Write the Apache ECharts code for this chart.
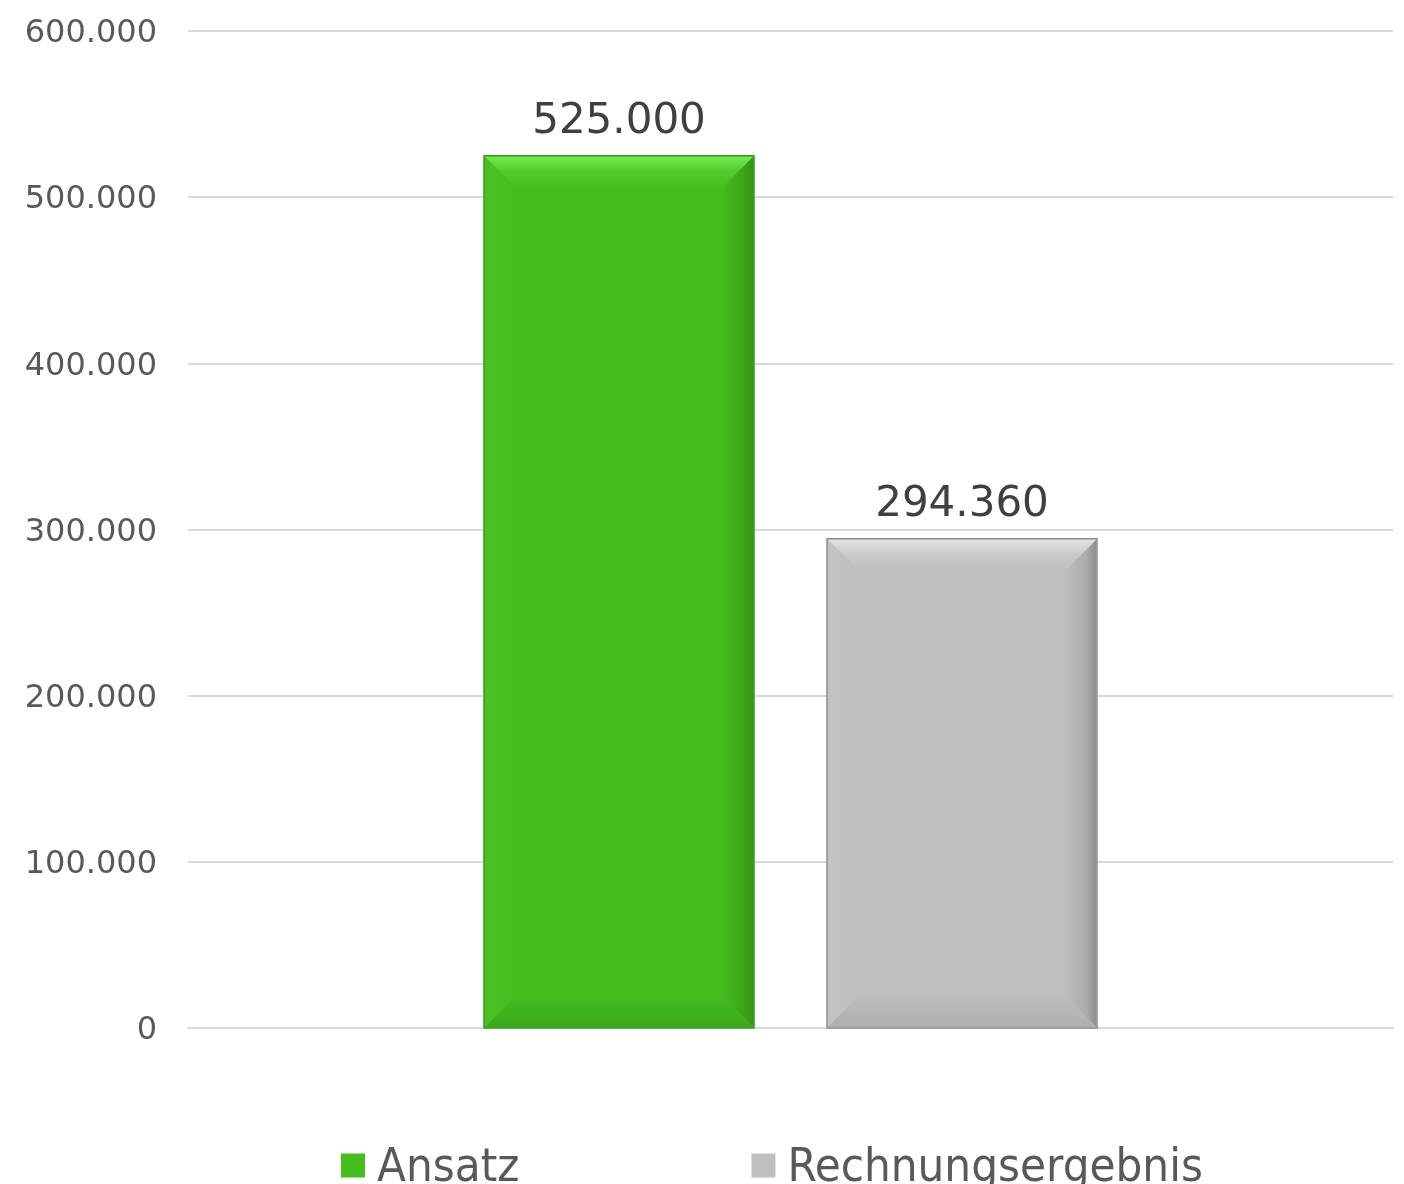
<!DOCTYPE html>
<html>
<head>
<meta charset="utf-8">
<script src="https://cdn.jsdelivr.net/npm/echarts@6/dist/echarts.min.js"></script>
<style>
  html, body { margin: 0; padding: 0; background: #fff; }
  #chart { width: 1404px; height: 1184px; }
</style>
</head>
<body>
<div id="chart"></div>
<script>
// Daten
var categories = [''];
var seriesNames = ['Ansatz', 'Rechnungsergebnis'];
var ansatzValues = [525000];
var ergebnisValues = [294360];
var yTicks = [0, 100000, 200000, 300000, 400000, 500000, 600000];

// Farben fuer den "Bevel"-Effekt
var palettes = [
  { main: '#45bd1f', topA: '#78eb4e', topB: '#52cb2a', left: '#49c222', right: '#3ba717', rightEdge: '#34951a', bottom: '#3ea81a', border: '#3b9a1e' },
  { main: '#bfbfbf', topA: '#e2e2e2', topB: '#cacaca', left: '#c3c3c3', right: '#ababab', rightEdge: '#8e8e8e', bottom: '#adadad', border: '#8e8e8e' }
];

// Zahl mit deutschem Tausenderpunkt
function fmt(v) {
  return String(Math.round(v)).replace(/\B(?=(\d{3})+(?!\d))/g, '.');
}

var chart = echarts.init(document.getElementById('chart'));

function makeRender(idx) {
  return function (params, api) {
    var val = api.value(1);
    var bw = api.size([1, 0])[0];
    var barW = bw * 270 / 1205;
    var gap = bw * 73 / 1205;
    var top = api.coord([api.value(0), val]);
    var base = api.coord([api.value(0), 0]);
    var cx = top[0];
    var x0 = idx === 0 ? cx - gap / 2 - barW : cx + gap / 2;
    var x1 = x0 + barW;
    var y0 = top[1], y1 = base[1];
    var b = 33;
    var p = palettes[idx];
    return {
      type: 'group',
      children: [
        { type: 'rect', shape: { x: x0, y: y0, width: barW, height: y1 - y0 }, style: { fill: p.main, stroke: p.border, lineWidth: 1.5 } },
        { type: 'polygon', shape: { points: [[x0 + 1, y0 + 1], [x0 + b, y0 + b], [x0 + b, y1 - b], [x0 + 1, y1 - 1]] },
          style: { fill: new echarts.graphic.LinearGradient(0, 0, 1, 0, [{ offset: 0, color: p.left }, { offset: 1, color: p.main }]) } },
        { type: 'polygon', shape: { points: [[x1 - 1, y0 + 1], [x1 - 1, y1 - 1], [x1 - b, y1 - b], [x1 - b, y0 + b]] },
          style: { fill: new echarts.graphic.LinearGradient(0, 0, 1, 0, [{ offset: 0, color: p.main }, { offset: 0.7, color: p.right }, { offset: 1, color: p.rightEdge }]) } },
        { type: 'polygon', shape: { points: [[x0 + 1, y0 + 1], [x1 - 1, y0 + 1], [x1 - b, y0 + b], [x0 + b, y0 + b]] },
          style: { fill: new echarts.graphic.LinearGradient(0, 0, 0, 1, [{ offset: 0, color: p.topA }, { offset: 0.45, color: p.topB }, { offset: 1, color: p.main }]) } },
        { type: 'polygon', shape: { points: [[x0 + 1, y1 - 1], [x1 - 1, y1 - 1], [x1 - b, y1 - b], [x0 + b, y1 - b]] },
          style: { fill: new echarts.graphic.LinearGradient(0, 0, 0, 1, [{ offset: 0, color: p.main }, { offset: 1, color: p.bottom }]) } },
        { type: 'text', style: { text: fmt(val), x: (x0 + x1) / 2, y: y0 - 13, align: 'center', verticalAlign: 'bottom',
          fill: '#404040', font: '42px "DejaVu Sans", Verdana, sans-serif' } }
      ]
    };
  };
}

function toData(vals) {
  return vals.map(function (v, i) { return [i, v]; });
}

chart.setOption({
  animation: false,
  grid: { left: 188, right: 11, top: 31, bottom: 156 },
  legend: {
    data: seriesNames,
    left: 341,
    top: 1145,
    padding: 0,
    icon: 'rect',
    itemWidth: 24,
    itemHeight: 24,
    itemGap: 232,
    textStyle: {
      fontFamily: '"DejaVu Sans Condensed", "DejaVu Sans", sans-serif', fontSize: 47, color: '#595959',
      rich: { t: { fontFamily: '"DejaVu Sans Condensed", "DejaVu Sans", sans-serif', fontSize: 47, color: '#595959', padding: [6, 0, 0, 7] } }
    },
    formatter: function (name) { return '{t|' + name + '}'; }
  },
  xAxis: {
    type: 'category',
    data: categories,
    axisLine: { show: true, lineStyle: { color: '#d9d9d9', width: 2 } },
    axisTick: { show: false },
    axisLabel: { show: false },
    splitLine: { show: false }
  },
  yAxis: {
    type: 'value',
    min: yTicks[0],
    max: yTicks[yTicks.length - 1],
    interval: yTicks[1] - yTicks[0],
    axisLine: { show: false },
    axisTick: { show: false },
    axisLabel: {
      margin: 31, color: '#595959', fontSize: 32, fontFamily: '"DejaVu Sans", Verdana, sans-serif',
      rich: { v: { color: '#595959', fontSize: 32, fontFamily: '"DejaVu Sans", Verdana, sans-serif', padding: [6, 0, 0, 0] } },
      formatter: function (v) { return '{v|' + fmt(v) + '}'; }
    },
    splitLine: { lineStyle: { color: '#d9d9d9', width: 2 } }
  },
  series: [
    { name: seriesNames[0], type: 'custom', renderItem: makeRender(0), encode: { x: 0, y: 1 }, itemStyle: { color: palettes[0].main }, data: toData(ansatzValues) },
    { name: seriesNames[1], type: 'custom', renderItem: makeRender(1), encode: { x: 0, y: 1 }, itemStyle: { color: palettes[1].main }, data: toData(ergebnisValues) }
  ]
});
</script>
</body>
</html>
